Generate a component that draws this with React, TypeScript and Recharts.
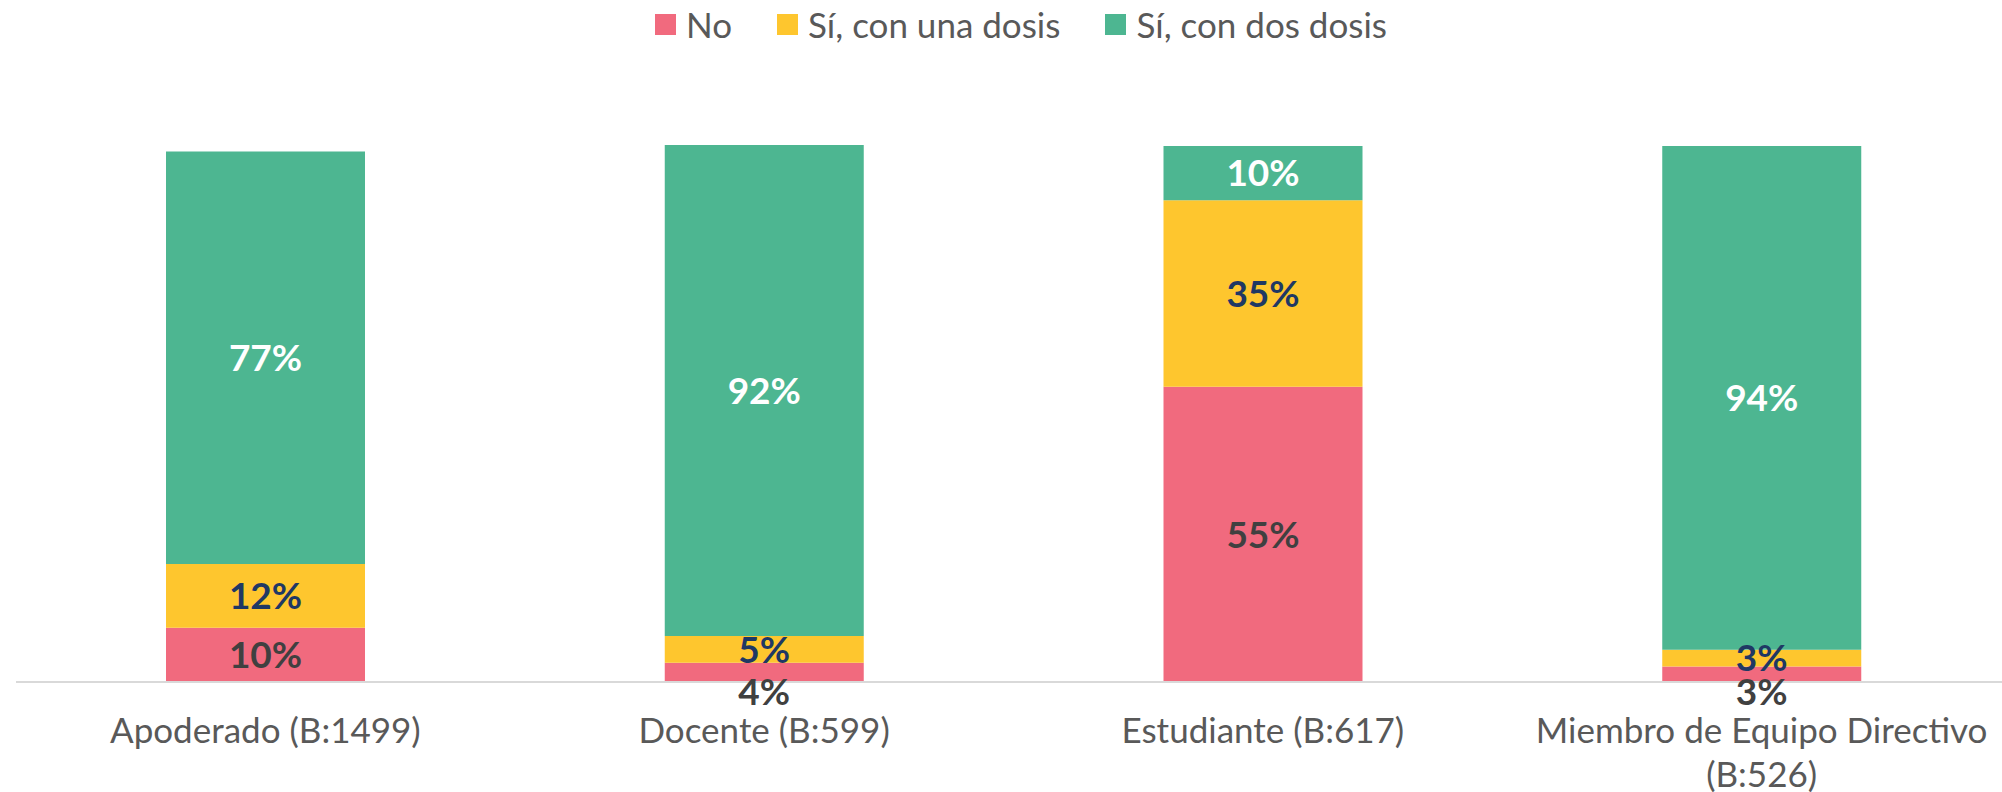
import React from 'react';
import { BarChart, Bar, XAxis, YAxis, LabelList } from 'recharts';

const categories = ['Apoderado (B:1499)', 'Docente (B:599)', 'Estudiante (B:617)', 'Miembro de Equipo Directivo (B:526)'];
const noValues = [10.1, 3.6, 55.1, 2.9];
const unaDosisValues = [11.9, 5.0, 34.8, 3.1];
const dosDosisValues = [77.0, 91.6, 10.1, 94.0];

const seriesKeys = ['no', 'una', 'dos'];
const seriesNames = ['No', 'Sí, con una dosis', 'Sí, con dos dosis'];
const seriesColors = ['#F16A7E', '#FEC62E', '#4DB691'];
const labelColors = ['#404040', '#1F3864', '#FFFFFF'];

const data = categories.map((c, i) => ({
  cat: c,
  no: noValues[i],
  una: unaDosisValues[i],
  dos: dosDosisValues[i],
}));

const ff = 'Lato, "Open Sans", sans-serif';

// long labels go on two lines, breaking before the "(B:..)" part like Excel does
function splitLabel(s: string): string[] {
  if (s.length <= 28) return [s];
  const cut = s.lastIndexOf(' (');
  return [s.slice(0, cut), s.slice(cut + 1)];
}

function CatTick(props: any) {
  const { x, y, payload } = props;
  const lines = splitLabel(String(payload.value));
  return (
    <text x={x} y={y + 61} textAnchor="middle" fill="#595959" style={{ fontSize: 35, fontFamily: ff }}>
      {lines.map((l, i) => (
        <tspan key={i} x={x} dy={i === 0 ? 0 : 44}>{l}</tspan>
      ))}
    </text>
  );
}

function makeLabel(idx: number) {
  return (props: any) => {
    const { x, y, width, height, value } = props;
    const cx = x + width / 2;
    let cy = y + height / 2;
    // tiny red segments: label pushed under the axis
    if (idx === 0 && value < 5) cy = y + height + 10;
    return (
      <text
        x={cx}
        y={cy}
        dy="0.36em"
        textAnchor="middle"
        fill={labelColors[idx]}
        style={{ fontSize: 37, fontWeight: 700, fontFamily: ff }}
      >
        {Math.round(value)}%
      </text>
    );
  };
}

export default function App() {
  return (
    <div style={{ position: 'absolute', left: 0, top: 0, width: 2002, height: 792, background: '#fff', fontFamily: ff }}>
      <div style={{ position: 'absolute', left: 20, top: 12, width: 2002, display: 'flex', justifyContent: 'center', gap: 45 }}>
        {seriesNames.map((n, i) => (
          <div key={n} style={{ display: 'flex', alignItems: 'center', gap: 10, height: 25 }}>
            <div style={{ width: 21, height: 21, background: seriesColors[i] }} />
            <span style={{ fontSize: 35, color: '#595959', lineHeight: 1 }}>{n}</span>
          </div>
        ))}
      </div>
      <BarChart width={2002} height={792} data={data} margin={{ top: 145, right: -9, left: 16, bottom: 0 }}>
        <XAxis
          dataKey="cat"
          height={110}
          tickSize={0}
          tickMargin={0}
          axisLine={{ stroke: '#D9D9D9', strokeWidth: 2 }}
          tickLine={false}
          tick={<CatTick />}
          interval={0}
        />
        <YAxis hide domain={[0, 100]} />
        {seriesKeys.map((k, i) => (
          <Bar key={k} dataKey={k} name={seriesNames[i]} stackId="a" fill={seriesColors[i]} barSize={199} isAnimationActive={false}>
            <LabelList dataKey={k} content={makeLabel(i)} />
          </Bar>
        ))}
      </BarChart>
    </div>
  );
}
